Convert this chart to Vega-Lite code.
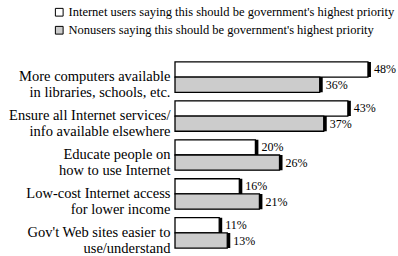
{
  "$schema": "https://vega.github.io/schema/vega-lite/v6.json",
  "width": 201,
  "height": 194,
  "autosize": "none",
  "padding": {"left": 175, "top": 58, "right": 22, "bottom": 4},
  "background": "white",
  "config": {"view": {"stroke": null}, "font": "Liberation Serif",
    "axis": {"labelFont": "Liberation Serif", "labelFontSize": 14},
    "legend": {"labelFont": "Liberation Serif", "labelFontSize": 12.5},
    "text": {"font": "Liberation Serif"}},
  "data": {"values": [
    {"cat": "More computers available|in libraries, schools, etc.", "group": "Internet users saying this should be government's highest priority", "value": 48, "pct": "48%"},
    {"cat": "More computers available|in libraries, schools, etc.", "group": "Nonusers saying this should be government's highest priority", "value": 36, "pct": "36%"},
    {"cat": "Ensure all Internet services/|info available elsewhere", "group": "Internet users saying this should be government's highest priority", "value": 43, "pct": "43%"},
    {"cat": "Ensure all Internet services/|info available elsewhere", "group": "Nonusers saying this should be government's highest priority", "value": 37, "pct": "37%"},
    {"cat": "Educate people on|how to use Internet", "group": "Internet users saying this should be government's highest priority", "value": 20, "pct": "20%"},
    {"cat": "Educate people on|how to use Internet", "group": "Nonusers saying this should be government's highest priority", "value": 26, "pct": "26%"},
    {"cat": "Low-cost Internet access|for lower income", "group": "Internet users saying this should be government's highest priority", "value": 16, "pct": "16%"},
    {"cat": "Low-cost Internet access|for lower income", "group": "Nonusers saying this should be government's highest priority", "value": 21, "pct": "21%"},
    {"cat": "Gov't Web sites easier to|use/understand", "group": "Internet users saying this should be government's highest priority", "value": 11, "pct": "11%"},
    {"cat": "Gov't Web sites easier to|use/understand", "group": "Nonusers saying this should be government's highest priority", "value": 13, "pct": "13%"}
  ]},
  "encoding": {
    "y": {"field": "cat", "type": "nominal", "sort": null,
      "scale": {"paddingInner": 0.22, "paddingOuter": 0.1},
      "axis": {"title": null, "ticks": false, "domain": false, "labelPadding": 5,
        "labelExpr": "split(datum.label, '|')", "labelFont": "Liberation Serif",
        "labelFontSize": 14.5, "labelColor": "black", "labelLineHeight": 16, "labelLimit": 200}},
    "yOffset": {"field": "group", "type": "nominal", "sort": null},
    "x": {"field": "value", "type": "quantitative", "scale": {"domain": [0, 50]}, "axis": null}
  },
  "layer": [
    {"mark": {"type": "bar", "fill": "black", "xOffset": 3, "yOffset": 2}},
    {"mark": {"type": "bar", "stroke": "black", "strokeWidth": 1.3},
     "encoding": {"fill": {"field": "group", "type": "nominal", "sort": null,
       "scale": {"range": ["white", "#cccccc"]},
       "legend": {"title": null, "orient": "none", "legendX": -122, "legendY": -52,
         "symbolType": "square", "symbolSize": 60, "symbolStrokeColor": "black", "symbolStrokeWidth": 1,
         "labelFont": "Liberation Serif", "labelFontSize": 12.5, "labelColor": "black", "labelLimit": 400,
         "rowPadding": 5, "symbolOffset": 0, "labelOffset": 3}}}},
    {"mark": {"type": "text", "align": "left", "dx": 6, "font": "Liberation Serif", "fontSize": 12, "color": "black"},
     "encoding": {"text": {"field": "pct", "type": "nominal"}}}
  ]
}
